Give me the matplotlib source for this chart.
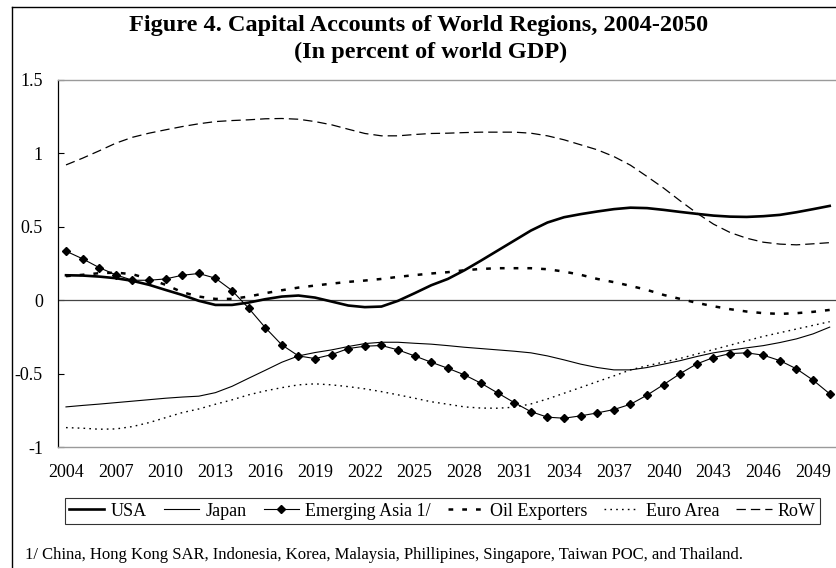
"""
Capital accounts of world regions, 2004-2050, in percent of world GDP.
"""

import matplotlib
matplotlib.use('Agg')
import matplotlib.pyplot as plt
from matplotlib.lines import Line2D

years = list(range(2004, 2051))
tick_years = list(range(2004, 2050, 3))

usa = [0.171, 0.169, 0.162, 0.151, 0.133, 0.106, 0.071, 0.037, -0.003, -0.031,
       -0.031, -0.015, 0.008, 0.026, 0.033, 0.019, -0.008, -0.035, -0.046, -0.042,
       -0.003, 0.049, 0.103, 0.146, 0.205, 0.271, 0.339, 0.407, 0.475, 0.530,
       0.566, 0.587, 0.605, 0.621, 0.631, 0.628, 0.616, 0.602, 0.589, 0.577,
       0.570, 0.568, 0.573, 0.582, 0.600, 0.621, 0.643]
japan = [-0.725, -0.715, -0.706, -0.696, -0.686, -0.676, -0.666, -0.658, -0.652, -0.628,
         -0.585, -0.530, -0.476, -0.421, -0.378, -0.355, -0.337, -0.314, -0.294, -0.285,
         -0.285, -0.292, -0.298, -0.308, -0.319, -0.328, -0.337, -0.346, -0.357, -0.378,
         -0.405, -0.434, -0.457, -0.473, -0.473, -0.457, -0.434, -0.410, -0.382, -0.357,
         -0.339, -0.323, -0.308, -0.287, -0.262, -0.228, -0.182]
emerging_asia = [0.335, 0.283, 0.223, 0.174, 0.137, 0.137, 0.146, 0.171, 0.183, 0.151,
                 0.067, -0.053, -0.185, -0.303, -0.378, -0.396, -0.369, -0.328, -0.312, -0.307,
                 -0.337, -0.378, -0.421, -0.462, -0.507, -0.564, -0.630, -0.696, -0.757, -0.795,
                 -0.802, -0.786, -0.766, -0.743, -0.707, -0.645, -0.573, -0.498, -0.432, -0.389,
                 -0.362, -0.357, -0.373, -0.410, -0.466, -0.543, -0.636]
oil_exporters = [0.165, 0.174, 0.185, 0.189, 0.178, 0.146, 0.106, 0.056, 0.026, 0.010,
                 0.010, 0.026, 0.049, 0.069, 0.087, 0.101, 0.114, 0.126, 0.135, 0.146,
                 0.160, 0.172, 0.183, 0.192, 0.205, 0.214, 0.219, 0.219, 0.219, 0.212,
                 0.196, 0.174, 0.146, 0.124, 0.099, 0.071, 0.037, 0.010, -0.017, -0.040,
                 -0.060, -0.076, -0.087, -0.092, -0.087, -0.078, -0.065]
euro_area = [-0.866, -0.870, -0.877, -0.875, -0.859, -0.832, -0.798, -0.764, -0.739, -0.707,
             -0.677, -0.643, -0.616, -0.594, -0.575, -0.568, -0.575, -0.587, -0.602, -0.621,
             -0.643, -0.666, -0.690, -0.707, -0.725, -0.733, -0.734, -0.727, -0.705, -0.671,
             -0.632, -0.593, -0.553, -0.514, -0.473, -0.445, -0.420, -0.395, -0.365, -0.335,
             -0.305, -0.275, -0.245, -0.220, -0.195, -0.170, -0.145]
row = [0.922, 0.968, 1.018, 1.070, 1.110, 1.138, 1.161, 1.183, 1.202, 1.217,
       1.224, 1.229, 1.236, 1.238, 1.233, 1.217, 1.195, 1.165, 1.136, 1.120,
       1.120, 1.129, 1.136, 1.138, 1.142, 1.145, 1.145, 1.145, 1.138, 1.120,
       1.093, 1.059, 1.025, 0.979, 0.920, 0.843, 0.764, 0.677, 0.594, 0.519,
       0.462, 0.423, 0.396, 0.383, 0.378, 0.385, 0.393]

y_ticks = [-1, -0.5, 0, 0.5, 1, 1.5]
y_labels = ['-1', '-0.5', '0', '0.5', '1', '1.5']

title1 = 'Figure 4. Capital Accounts of World Regions, 2004-2050'
title2 = '(In percent of world GDP)'
footnote = ('1/ China, Hong Kong SAR, Indonesia, Korea, Malaysia, Phillipines, '
            'Singapore, Taiwan POC, and Thailand.')

plt.rcParams['font.family'] = ['Liberation Serif', 'DejaVu Serif']

W, H = 836, 568
fig = plt.figure(figsize=(W / 100, H / 100), dpi=100)

# plot area in pixel terms of the original
left, right, top, bottom = 57.7, 838.0, 80.0, 447.3
ax = fig.add_axes([left / W, 1 - bottom / H, (right - left) / W, (bottom - top) / H])

ax.plot(years, row, color='k', lw=0.9, linestyle=(0, (7.5, 4)), label='RoW', zorder=3)
ax.plot(years, euro_area, color='k', lw=1.0, linestyle=(0, (1.2, 3)), label='Euro Area', zorder=3)
ax.plot(years, oil_exporters, color='k', lw=1.8, linestyle=(0, (1.9, 3.6)),
        label='Oil Exporters', zorder=3)
ax.plot(years, japan, color='k', lw=0.8, label='Japan', zorder=4)
ax.plot(years, emerging_asia, color='k', lw=0.8, marker='D', markersize=3.6,
        label='Emerging Asia 1/', zorder=5)
ax.plot(years, usa, color='k', lw=1.9, label='USA', zorder=6)

ax.axhline(0, color='#444444', lw=0.9, zorder=2)

ax.set_xlim(2003.5, 2050.5)
ax.set_ylim(-1, 1.5)
ax.set_xticks(tick_years)
ax.set_xticklabels([str(y) for y in tick_years], fontsize=13)
ax.set_yticks(y_ticks)
ax.set_yticklabels(y_labels, fontsize=13)
ax.tick_params(axis='x', length=0, pad=12)
ax.tick_params(axis='y', direction='in', length=4.5, width=0.8, pad=10.6)

for side in ['top', 'bottom']:
    ax.spines[side].set_color('#9a9a9a')
    ax.spines[side].set_linewidth(1.0)
ax.spines['right'].set_visible(False)
ax.spines['left'].set_color('k')
ax.spines['left'].set_linewidth(0.9)

# legend in the original order
handles, labels = ax.get_legend_handles_labels()
order = ['USA', 'Japan', 'Emerging Asia 1/', 'Oil Exporters', 'Euro Area', 'RoW']
hmap = dict(zip(labels, handles))
leg = fig.legend([hmap[k] for k in order], order, loc='center',
                 bbox_to_anchor=(442.5 / W, 1 - 511 / H), ncol=6, fontsize=13,
                 frameon=True, fancybox=False, edgecolor='k', handlelength=1.95,
                 handletextpad=0.35, columnspacing=0.95, borderpad=0.25,
                 borderaxespad=0)
leg.get_frame().set_linewidth(0.8)

fig.text(419 / W, 1 - 25 / H, title1, ha='center', va='center', fontsize=17.5, fontweight='bold')
fig.text(431 / W, 1 - 52 / H, title2, ha='center', va='center', fontsize=17.5, fontweight='bold')
fig.text(25 / W, 1 - 555 / H, footnote, ha='left', va='center', fontsize=12)

# chart border, cut off at the right and bottom
fig.add_artist(Line2D([12 / W, 12 / W], [1 - 7 / H, 0], color='k', lw=1.0))
fig.add_artist(Line2D([12 / W, 1], [1 - 7 / H, 1 - 7 / H], color='k', lw=1.0))

fig.savefig('out.png', dpi=100)
